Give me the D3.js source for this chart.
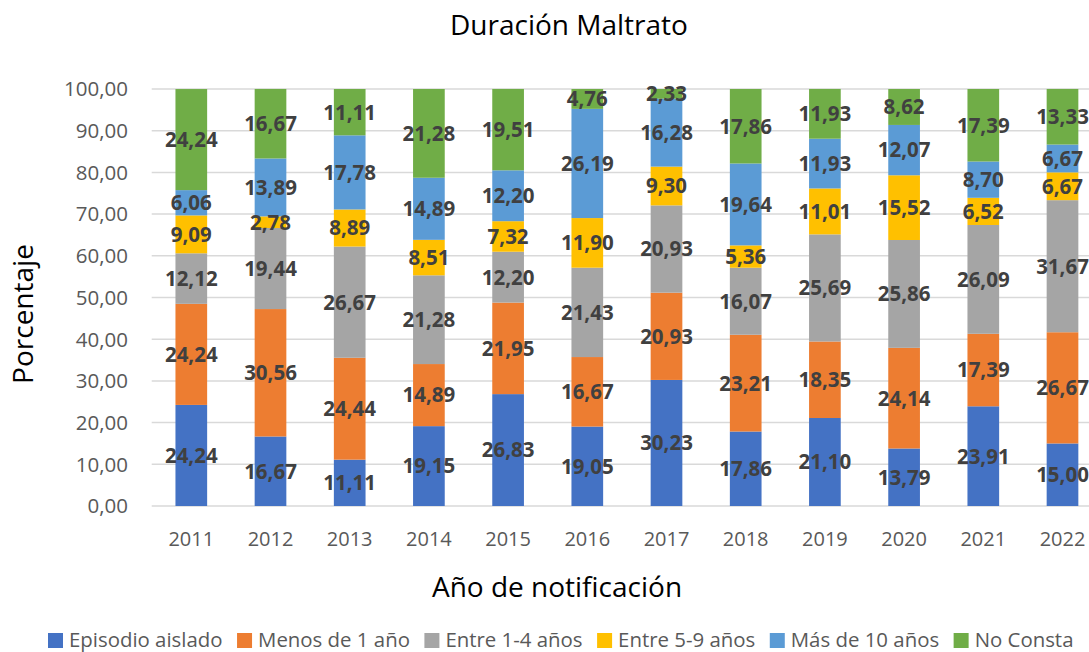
<!DOCTYPE html>
<html>
<head>
<meta charset="utf-8">
<script src="https://cdn.jsdelivr.net/npm/d3@7"></script>
<style>
  html, body { margin: 0; padding: 0; background: #fff; }
  svg { display: block; font-family: "Open Sans", sans-serif; }
</style>
</head>
<body>
<svg id="chart" width="1089" height="652"></svg>
<script>
const years = ["2011","2012","2013","2014","2015","2016","2017","2018","2019","2020","2021","2022"];
const seriesNames = ["Episodio aislado","Menos de 1 año","Entre 1-4 años","Entre 5-9 años","Más de 10 años","No Consta"];
const seriesColors = ["#4472C4","#ED7D31","#A5A5A5","#FFC000","#5B9BD5","#70AD47"];
const episodioAislado = [24.24,16.67,11.11,19.15,26.83,19.05,30.23,17.86,21.10,13.79,23.91,15.00];
const menos1 =          [24.24,30.56,24.44,14.89,21.95,16.67,20.93,23.21,18.35,24.14,17.39,26.67];
const entre1_4 =        [12.12,19.44,26.67,21.28,12.20,21.43,20.93,16.07,25.69,25.86,26.09,31.67];
const entre5_9 =        [9.09,2.78,8.89,8.51,7.32,11.90,9.30,5.36,11.01,15.52,6.52,6.67];
const mas10 =           [6.06,13.89,17.78,14.89,12.20,26.19,16.28,19.64,11.93,12.07,8.70,6.67];
const noConsta =        [24.24,16.67,11.11,21.28,19.51,4.76,2.33,17.86,11.93,8.62,17.39,13.33];
const yTicks = [0,10,20,30,40,50,60,70,80,90,100];

const seriesValues = [episodioAislado, menos1, entre1_4, entre5_9, mas10, noConsta];
const rows = years.map((yr, i) => {
  const r = { year: yr };
  seriesNames.forEach((s, k) => r[s] = seriesValues[k][i]);
  return r;
});

const svg = d3.select("#chart");
const fmt = v => d3.format(".2f")(v).replace(".", ",");

const plotLeft = 151.7, step = 79.2;
const x = d3.scaleBand().domain(years)
  .range([plotLeft, plotLeft + step * years.length])
  .paddingInner(0.6).paddingOuter(0.3);
const y = d3.scaleLinear().domain([0, 100]).range([506, 89]);

// gridlines
svg.append("g").selectAll("line").data(yTicks).join("line")
  .attr("x1", plotLeft).attr("x2", plotLeft + step * years.length)
  .attr("y1", d => y(d)).attr("y2", d => y(d))
  .attr("stroke", "#D9D9D9").attr("stroke-width", 1.5);

// y tick labels
svg.append("g").selectAll("text").data(yTicks).join("text")
  .attr("x", 128).attr("y", d => y(d)).attr("dy", "0.36em")
  .attr("text-anchor", "end").attr("font-size", 20.5).attr("fill", "#595959")
  .text(d => fmt(d));

// x tick labels
svg.append("g").selectAll("text").data(years).join("text")
  .attr("x", d => x(d) + x.bandwidth() / 2).attr("y", 546)
  .attr("text-anchor", "middle").attr("font-size", 20).attr("fill", "#595959")
  .text(d => d);

const stack = d3.stack().keys(seriesNames)(rows);

const layers = svg.append("g").selectAll("g").data(stack).join("g")
  .attr("fill", (d, i) => seriesColors[i]);
layers.selectAll("rect").data(d => d).join("rect")
  .attr("x", d => x(d.data.year)).attr("width", x.bandwidth())
  .attr("y", d => y(d[1])).attr("height", d => y(d[0]) - y(d[1]));

// data labels
const lbl = svg.append("g");
stack.forEach(layer => {
  lbl.selectAll(null).data(layer).join("text")
    .attr("x", d => x(d.data.year) + x.bandwidth() / 2)
    .attr("y", d => y((d[0] + d[1]) / 2)).attr("dy", "0.36em")
    .attr("text-anchor", "middle").attr("font-size", 20.5).attr("font-weight", "bold")
    .attr("fill", "#404040")
    .text(d => fmt(d.data[layer.key]));
});

// title
svg.append("text").attr("x", 569).attr("y", 35).attr("text-anchor", "middle")
  .attr("font-size", 28).attr("fill", "#000").text("Duración Maltrato");

// axis titles
svg.append("text").attr("transform", "translate(33,314) rotate(-90)")
  .attr("text-anchor", "middle").attr("font-size", 28).attr("fill", "#000").text("Porcentaje");
svg.append("text").attr("x", 557).attr("y", 597).attr("text-anchor", "middle")
  .attr("font-size", 28).attr("fill", "#000").text("Año de notificación");

// legend
const leg = svg.append("g");
let lx = 48;
seriesNames.forEach((s, i) => {
  leg.append("rect").attr("x", lx).attr("y", 633).attr("width", 15).attr("height", 15)
    .attr("fill", seriesColors[i]);
  const t = leg.append("text").attr("x", lx + 21).attr("y", 647)
    .attr("font-size", 20.4).attr("fill", "#595959").text(s);
  lx += 21 + t.node().getComputedTextLength() + 14.5;
});
</script>
</body>
</html>
